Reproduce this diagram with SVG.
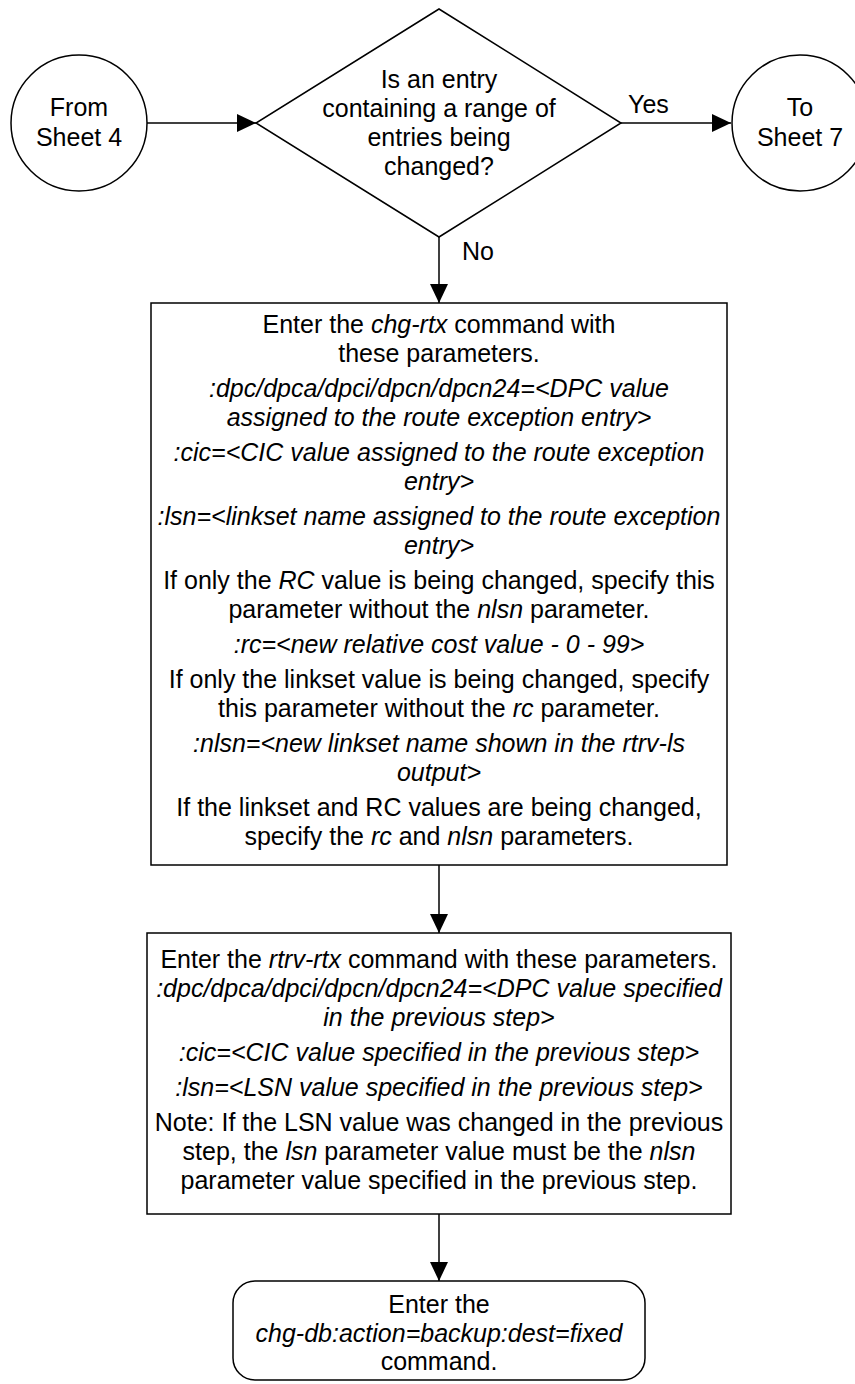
<svg xmlns="http://www.w3.org/2000/svg" width="855" height="1384" viewBox="0 0 855 1384">
<style>
.s{fill:#fff;stroke:#000;stroke-width:1.5}
.c{fill:none;stroke:#000;stroke-width:1.5}
text{font-family:"Liberation Sans",Arial,sans-serif;font-size:25px;fill:#000;text-anchor:middle}
.l{text-anchor:start}
.i{font-style:italic}
</style>
<defs>
<marker id="ah" markerUnits="userSpaceOnUse" markerWidth="19" markerHeight="18" refX="19" refY="9" orient="auto">
<path d="M0,0 L19,9 L0,18 z" fill="#000"/>
</marker>
</defs>
<rect width="855" height="1384" fill="#fff"/>
<g id="connectors">
<line class="c" x1="147" y1="123" x2="256" y2="123" marker-end="url(#ah)"/>
<line class="c" x1="621" y1="123" x2="731" y2="123" marker-end="url(#ah)"/>
<line class="c" x1="439" y1="237" x2="439" y2="303" marker-end="url(#ah)"/>
<line class="c" x1="439" y1="865" x2="439" y2="933" marker-end="url(#ah)"/>
<line class="c" x1="439" y1="1214" x2="439" y2="1281" marker-end="url(#ah)"/>
<text class="l" x="628" y="113">Yes</text>
<text class="l" x="462" y="260">No</text>
</g>
<g id="from-sheet-4">
<circle class="s" cx="79" cy="123" r="68"/>
<text x="79" y="116">From</text>
<text x="79" y="146">Sheet 4</text>
</g>
<g id="decision">
<polygon class="s" points="439,9 621,123 439,237 256,123"/>
<text x="439" y="88">Is an entry</text>
<text x="439" y="117">containing a range of</text>
<text x="439" y="146">entries being</text>
<text x="439" y="175">changed?</text>
</g>
<g id="to-sheet-7">
<circle class="s" cx="800" cy="123" r="68"/>
<text x="800" y="116">To</text>
<text x="800" y="146">Sheet 7</text>
</g>
<g id="chg-rtx">
<rect class="s" x="151" y="303" width="576" height="562"/>
<text x="439" y="333">Enter the <tspan class="i">chg-rtx</tspan> command with</text>
<text x="439" y="362">these parameters.</text>
<text class="i" x="439" y="397">:dpc/dpca/dpci/dpcn/dpcn24=&lt;DPC value</text>
<text class="i" x="439" y="426">assigned to the route exception entry&gt;</text>
<text class="i" x="439" y="461">:cic=&lt;CIC value assigned to the route exception</text>
<text class="i" x="439" y="490">entry&gt;</text>
<text class="i" x="439" y="525">:lsn=&lt;linkset name assigned to the route exception</text>
<text class="i" x="439" y="554">entry&gt;</text>
<text x="439" y="589">If only the <tspan class="i">RC</tspan> value is being changed, specify this</text>
<text x="439" y="618">parameter without the <tspan class="i">nlsn</tspan> parameter.</text>
<text class="i" x="439" y="653">:rc=&lt;new relative cost value - 0 - 99&gt;</text>
<text x="439" y="688">If only the linkset value is being changed, specify</text>
<text x="439" y="717">this parameter without the <tspan class="i">rc</tspan> parameter.</text>
<text class="i" x="439" y="752">:nlsn=&lt;new linkset name shown in the rtrv-ls</text>
<text class="i" x="439" y="781">output&gt;</text>
<text x="439" y="816">If the linkset and RC values are being changed,</text>
<text x="439" y="845">specify the <tspan class="i">rc</tspan> and <tspan class="i">nlsn</tspan> parameters.</text>
</g>
<g id="rtrv-rtx">
<rect class="s" x="147" y="933" width="584" height="281"/>
<text x="439" y="968">Enter the <tspan class="i">rtrv-rtx</tspan> command with these parameters.</text>
<text class="i" x="439" y="997">:dpc/dpca/dpci/dpcn/dpcn24=&lt;DPC value specified</text>
<text class="i" x="439" y="1026">in the previous step&gt;</text>
<text class="i" x="439" y="1061">:cic=&lt;CIC value specified in the previous step&gt;</text>
<text class="i" x="439" y="1096">:lsn=&lt;LSN value specified in the previous step&gt;</text>
<text x="439" y="1131">Note: If the LSN value was changed in the previous</text>
<text x="439" y="1160">step, the <tspan class="i">lsn</tspan> parameter value must be the <tspan class="i">nlsn</tspan></text>
<text x="439" y="1189">parameter value specified in the previous step.</text>
</g>
<g id="chg-db">
<rect class="s" x="233" y="1281" width="412" height="99" rx="22" ry="22"/>
<text x="439" y="1313">Enter the</text>
<text class="i" x="439" y="1342">chg-db:action=backup:dest=fixed</text>
<text x="439" y="1370">command.</text>
</g>
</svg>
